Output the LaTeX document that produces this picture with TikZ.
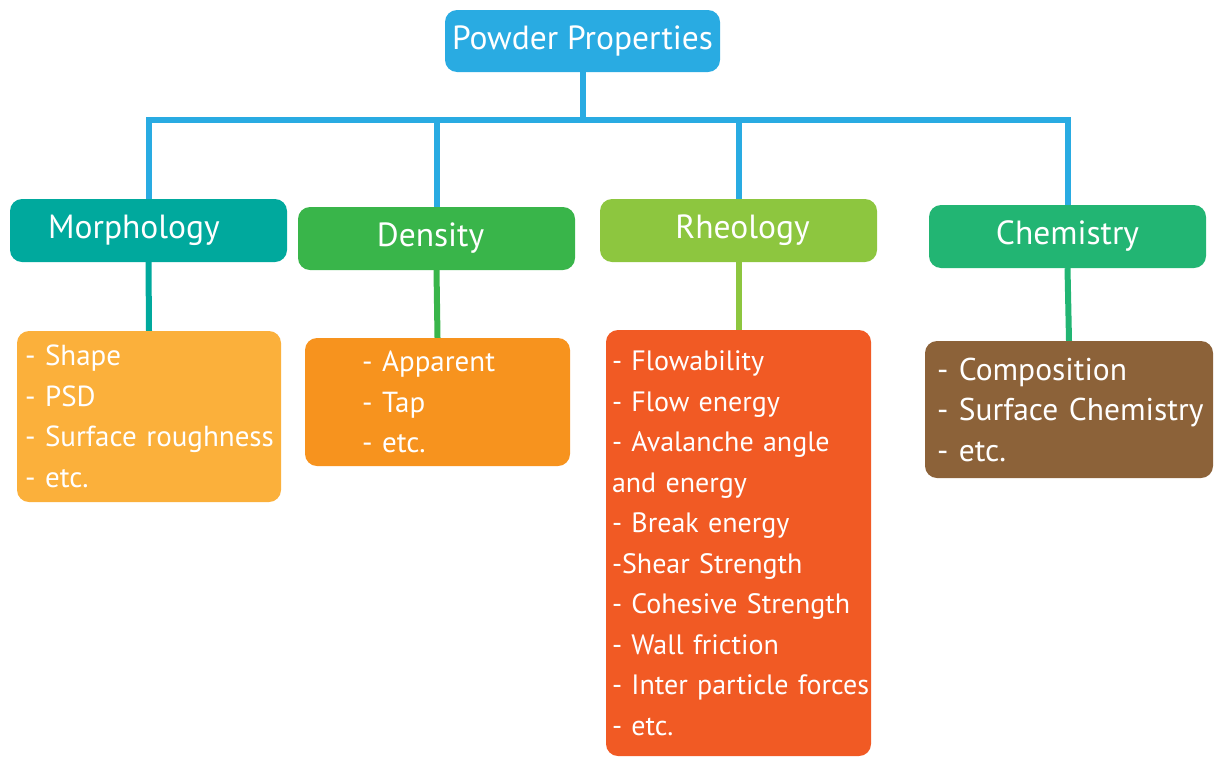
\documentclass[tikz,border=0pt]{standalone}
\usepackage{fontspec}
\setmainfont{PT Sans}
\usepackage{xcolor}
\usetikzlibrary{positioning, calc}

\definecolor{rootblue}{HTML}{29ABE2}
\definecolor{morphteal}{HTML}{00A99D}
\definecolor{densgreen}{HTML}{39B54A}
\definecolor{rheolime}{HTML}{8DC63F}
\definecolor{chemgreen}{HTML}{22B573}
\definecolor{morphfill}{HTML}{FBB03B}
\definecolor{densfill}{HTML}{F7931E}
\definecolor{rheofill}{HTML}{F15A24}
\definecolor{chemfill}{HTML}{8C6239}

\begin{document}
\begin{tikzpicture}[x=1pt, y=-1pt,
        head/.style={rounded corners=12pt, minimum width=277pt, minimum height=63pt,
            inner sep=0pt, text=white, font=\fontsize{33.5}{38}\selectfont},
        items/.style={rounded corners=12pt, inner sep=0pt, text=white, align=left,
            font=\fontsize{29}{40.5}\selectfont},
        bus/.style={line width=6pt, draw=rootblue}]
                \useasboundingbox (0,0) rectangle (1220,758);

                % top of the tree
                \node[head, fill=rootblue, minimum width=275pt, minimum height=62pt] (root) at (582.5,41) {Powder Properties};

                \node[head, fill=morphteal] (morph) at (148.5,230.5) {Morphology\hspace*{29pt}};
                \node[head, fill=densgreen] (dens) at (436.5,238.5) {Density\hspace*{12pt}};
                \node[head, fill=rheolime] (rheo) at (738.5,230.5) {\hspace*{8pt}Rheology};
                \node[head, fill=chemgreen] (chem) at (1067.5,236.5) {Chemistry};

                % lists under each branch
                \node[items, fill=morphfill, minimum height=171pt, text width=248pt, inner xsep=8pt] (morphlist) at (149,416.5)
                    {- Shape\\- PSD\\\mbox{- Surface roughness}\\- etc.};
                \node[items, fill=densfill, minimum height=128pt, text width=151pt, inner xsep=57pt] (denslist) at (437.5,402)
                    {- Apparent\\- Tap\\- etc.};
                \node[items, fill=rheofill, minimum height=426pt, text width=253pt, inner xsep=6pt,
                    font=\fontsize{28}{40.5}\selectfont] (rheolist) at (738.5,543)
                    {- Flowability\\- Flow energy\\- Avalanche angle\\and energy\\- Break energy\\-Shear Strength\\
                     - Cohesive Strength\\- Wall friction\\\mbox{- Inter particle forces}\\- etc.};
                \node[items, fill=chemfill, minimum height=137pt, text width=264pt, inner xsep=12pt,
                    font=\fontsize{31.5}{40.5}\selectfont] (chemlist) at (1069,409.5)
                    {- Composition\\\mbox{- Surface Chemistry}\\- etc.};

                \coordinate (busy) at (0,120);

                \draw[bus] (root.south) -- (root.south |- busy);
                \draw[bus, line join=miter] (morph.north) -- (morph.north |- busy) -- (chem.north |- busy) -- (chem.north);
                \draw[bus] (dens.north |- busy) -- (dens.north);
                \draw[bus] (rheo.north |- busy) -- (rheo.north);

                \draw[line width=6pt, draw=morphteal] (morph.south) -- (morphlist.north);
                \draw[line width=6pt, draw=densgreen] (dens.south) -- (denslist.north);
                \draw[line width=6pt, draw=rheolime] (rheo.south) -- (rheolist.north);
                \draw[line width=6pt, draw=chemgreen] (chem.south) -- (chemlist.north);
            \end{tikzpicture}
\end{document}
